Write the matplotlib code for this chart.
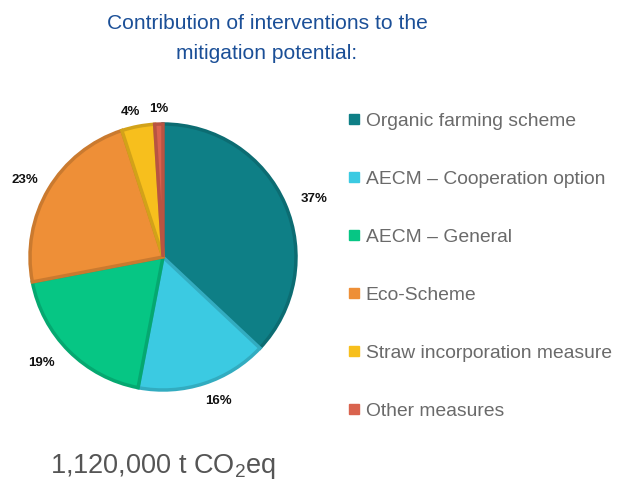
import matplotlib
matplotlib.use("Agg")
import matplotlib.pyplot as plt
from matplotlib.lines import Line2D
import matplotlib.colors as mcolors
import numpy as np

categories = ["Organic farming scheme", "AECM \u2013 Cooperation option", "AECM \u2013 General",
              "Eco-Scheme", "Straw incorporation measure", "Other measures"]
shares = [37, 16, 19, 23, 4, 1]
colors = ["#0e7f86", "#3bcae2", "#06c684", "#ee8f37", "#f7bf1d", "#d9634e"]
title = "Contribution of interventions to the\nmitigation potential:"
total_text = "1,120,000 t CO$_2$eq"
label_dist = [1.22, 1.16, 1.21, 1.19, 1.12, 1.11]
label_angle_shift = [-2.5, 3.0, -4.0, 1.4, 2.0, 0.0]

plt.rcParams['font.family'] = ['Liberation Sans', 'DejaVu Sans']
plt.rcParams['mathtext.fontset'] = 'custom'
plt.rcParams['mathtext.rm'] = 'Liberation Sans'
plt.rcParams['mathtext.it'] = 'Liberation Sans'
plt.rcParams['mathtext.bf'] = 'Liberation Sans:bold'

fig = plt.figure(figsize=(6.21, 4.8), dpi=100)
cx, cy, r = 163 / 621, (480 - 257) / 480, 133
ax = fig.add_axes([cx - r / 621, cy - r / 480, 2 * r / 621, 2 * r / 480])

def darker(c, f=0.85):
    rr, g, b = mcolors.to_rgb(c)
    return (rr * f, g * f, b * f)

wedges, texts, autotexts = ax.pie(
    shares, colors=colors, startangle=90, counterclock=False,
    autopct=lambda p: f"{p:.0f}%", pctdistance=1.16,
    wedgeprops=dict(linewidth=2.5, joinstyle='miter'),
    textprops=dict(fontsize=9.5, fontweight='bold', color='#111111'))
for w, c, t, d, s in zip(wedges, colors, autotexts, label_dist, label_angle_shift):
    w.set_edgecolor(darker(c))
    ang = np.deg2rad((w.theta1 + w.theta2) / 2 + s)
    t.set_position((d * np.cos(ang), d * np.sin(ang)))
ax.set_xlim(-1, 1)
ax.set_ylim(-1, 1)
ax.set_aspect('equal')

fig.text(267 / 621, 1 - 14 / 480, title, ha='center', va='top', fontsize=15.1,
         color='#1b4f97', linespacing=1.72)
fig.text(50 / 621, 1 - 473 / 480, total_text, ha='left', va='baseline', fontsize=19.5,
         color='#555555')

handles = [Line2D([0], [0], marker='s', linestyle='none', markersize=7,
                  markerfacecolor=c, markeredgecolor=c) for c in colors]
fig.legend(handles, categories, loc='upper left', bbox_to_anchor=(0.561, 1 - 112 / 480),
           frameon=False, fontsize=13.9, labelcolor='#6a6a6a', handlelength=0.6,
           handletextpad=0.3, labelspacing=2.1, borderaxespad=0, borderpad=0)

fig.savefig("out.png", dpi=100)
